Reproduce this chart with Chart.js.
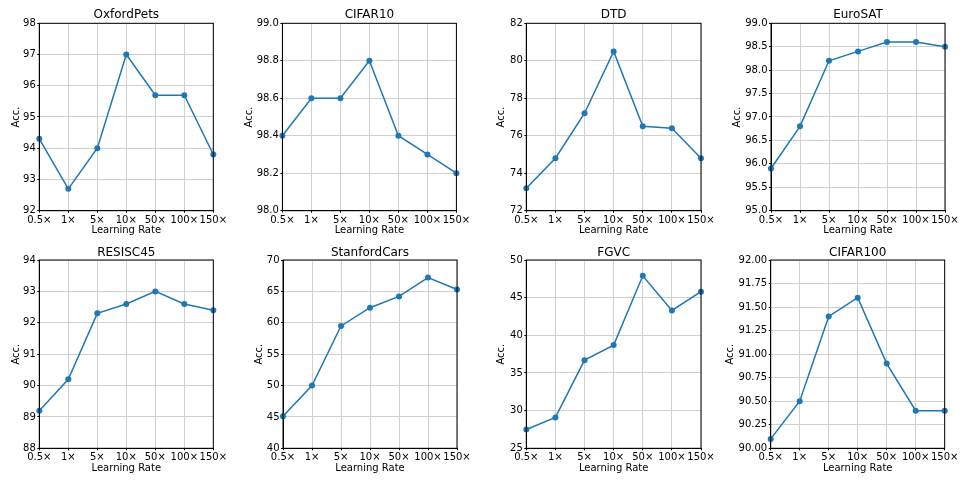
<!DOCTYPE html>
<html>
<head>
<meta charset="utf-8">
<script src="https://cdn.jsdelivr.net/npm/chart.js@4.4.1/dist/chart.umd.min.js"></script>
<style>
  html, body { margin: 0; padding: 0; background: #fff; }
  #wrap { position: relative; width: 969px; height: 485px; overflow: hidden; }
  #wrap canvas { position: absolute; }
</style>
</head>
<body>
<div id="wrap"></div>
<script>
// Données
const learningRates = ["0.5×", "1×", "5×", "10×", "50×", "100×", "150×"];

const oxfordPets   = [94.3, 92.7, 94.0, 97.0, 95.7, 95.7, 93.8];
const cifar10      = [98.4, 98.6, 98.6, 98.8, 98.4, 98.3, 98.2];
const dtd          = [73.2, 74.8, 77.2, 80.5, 76.5, 76.4, 74.8];
const euroSAT      = [95.9, 96.8, 98.2, 98.4, 98.6, 98.6, 98.5];
const resisc45     = [89.2, 90.2, 92.3, 92.6, 93.0, 92.6, 92.4];
const stanfordCars = [45.1, 50.0, 59.5, 62.4, 64.2, 67.2, 65.3];
const fgvc         = [27.5, 29.1, 36.7, 38.7, 47.9, 43.3, 45.8];
const cifar100     = [90.1, 90.5, 91.4, 91.6, 90.9, 90.4, 90.4];

// Bornes des axes y : [min, max, pas, décimales]
const yRanges = {
  OxfordPets:   [92, 98, 1, 0],
  CIFAR10:      [98, 99, 0.2, 1],
  DTD:          [72, 82, 2, 0],
  EuroSAT:      [95, 99, 0.5, 1],
  RESISC45:     [88, 94, 1, 0],
  StanfordCars: [40, 70, 5, 0],
  FGVC:         [25, 50, 5, 0],
  CIFAR100:     [90, 92, 0.25, 2]
};

const panels = [
  { title: "OxfordPets",   data: oxfordPets,   row: 0, col: 0 },
  { title: "CIFAR10",      data: cifar10,      row: 0, col: 1 },
  { title: "DTD",          data: dtd,          row: 0, col: 2 },
  { title: "EuroSAT",      data: euroSAT,      row: 0, col: 3 },
  { title: "RESISC45",     data: resisc45,     row: 1, col: 0 },
  { title: "StanfordCars", data: stanfordCars, row: 1, col: 1 },
  { title: "FGVC",         data: fgvc,         row: 1, col: 2 },
  { title: "CIFAR100",     data: cifar100,     row: 1, col: 3 }
];

// Géométrie (pixels de la page)
const rows = [
  { top: 0,   height: 240, plotTop: 23.3, plotBottom: 210.7, titleY: 15.2,  xlabelY: 230.7 },
  { top: 240, height: 245, plotTop: 260,  plotBottom: 448.3, titleY: 252.4, xlabelY: 468.3 }
];
const cols = [
  [{ left: 39.3,  right: 213.3, accX: 16 },    { left: 39.3,  right: 213.3, accX: 16 }],
  [{ left: 282.7, right: 456.7, accX: 249.3 }, { left: 282.7, right: 456.7, accX: 258.7 }],
  [{ left: 526,   right: 700.7, accX: 500.7 }, { left: 526,   right: 700.7, accX: 500.7 }],
  [{ left: 770.7, right: 944.7, accX: 736.7 }, { left: 770.7, right: 944.7, accX: 730 }]
];

const FONT = "'DejaVu Sans', 'Liberation Sans', sans-serif";
const BLUE = "#1f77b4";

// Cadre noir autour de la zone de tracé (comme matplotlib)
const frameBox = {
  id: "frameBox",
  afterDraw(chart) {
    const a = chart.chartArea;
    const ctx = chart.ctx;
    ctx.save();
    ctx.strokeStyle = "#000";
    ctx.lineWidth = 1;
    ctx.strokeRect(a.left, a.top, a.right - a.left, a.bottom - a.top);
    ctx.restore();
  }
};

const wrap = document.getElementById("wrap");

panels.forEach((p) => {
  const r = rows[p.row];
  const c = cols[p.col][p.row];
  const [yMin, yMax, yStep, dec] = yRanges[p.title];

  const canvasLeft = c.accX - 6;
  const side = c.left - canvasLeft;
  const rightRoom = 18;
  const width = Math.round((c.right - c.left) + side + rightRoom);
  const height = r.height;

  const canvas = document.createElement("canvas");
  canvas.width = width;
  canvas.height = height;
  canvas.style.left = canvasLeft + "px";
  canvas.style.top = r.top + "px";
  wrap.appendChild(canvas);

  const xAxisHeight = (r.top + height) - r.plotBottom;
  const titlePadTop = r.titleY - r.top - 7.2;
  const titlePadBottom = Math.max(r.plotTop - r.top - 14.4 - titlePadTop, 0);
  const xTitlePadBottom = (r.top + height) - r.xlabelY - 6;

  new Chart(canvas.getContext("2d"), {
    type: "line",
    data: {
      labels: learningRates,
      datasets: [{
        data: p.data,
        borderColor: BLUE,
        backgroundColor: BLUE,
        pointBackgroundColor: BLUE,
        pointBorderColor: BLUE,
        borderWidth: 1.5,
        pointRadius: 3,
        pointBorderWidth: 0,
        tension: 0
      }]
    },
    options: {
      responsive: false,
      animation: false,
      events: [],
      layout: { padding: { left: 0, top: 0, bottom: 0, right: width - side - (c.right - c.left) } },
      plugins: {
        legend: { display: false },
        tooltip: { enabled: false },
        title: {
          display: true,
          fullSize: false, // centré sur la zone de tracé
          text: p.title,
          color: "#000",
          font: { family: FONT, size: 12, weight: "normal", lineHeight: 1.2 },
          padding: { top: titlePadTop, bottom: titlePadBottom }
        }
      },
      scales: {
        x: {
          offset: false,
          grid: { color: "#d0d0d0", lineWidth: 1, tickColor: "#000", tickLength: 2 },
          border: { display: true, color: "#000", width: 1 },
          ticks: {
            color: "#000",
            autoSkip: false,
            maxRotation: 0,
            minRotation: 0,
            padding: 1.5,
            font: { family: FONT, size: 10 }
          },
          title: {
            display: true,
            text: "Learning Rate",
            color: "#000",
            font: { family: FONT, size: 10, lineHeight: 1.2 },
            padding: { top: 0, bottom: xTitlePadBottom }
          },
          afterFit(scale) { scale.height = xAxisHeight; }
        },
        y: {
          min: yMin,
          max: yMax,
          grid: { color: "#d0d0d0", lineWidth: 1, tickColor: "#000", tickLength: 2 },
          border: { display: true, color: "#000", width: 1 },
          ticks: {
            stepSize: yStep,
            color: "#000",
            padding: 1.5,
            font: { family: FONT, size: 10 },
            callback: (v) => Number(v).toFixed(dec)
          },
          title: {
            display: true,
            text: "Acc.",
            color: "#000",
            font: { family: FONT, size: 10, lineHeight: 1.2 },
            padding: { top: 0, bottom: 0 }
          },
          afterFit(scale) { scale.width = side; }
        }
      }
    },
    plugins: [frameBox]
  });
});
</script>
</body>
</html>
